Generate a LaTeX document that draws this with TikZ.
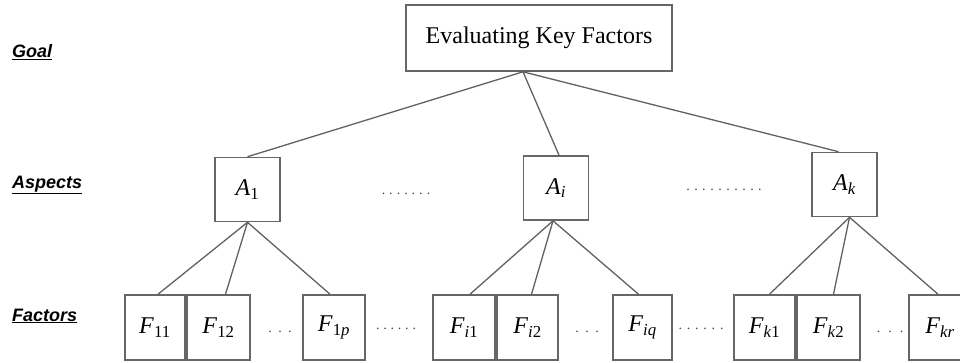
\documentclass[tikz,border=0pt]{standalone}
\usepackage{fontspec}
\setmainfont{Liberation Serif}
\newfontfamily\lblfont{Liberation Sans}
\newcommand\spdots[2]{\foreach \n in {1,...,#1}{.\kern#2}\kern-#2}
\begin{document}
\begin{tikzpicture}[x=1pt,y=-1pt,
  box/.style={draw=black!60, line width=1.6pt, rectangle, inner sep=0pt, text=black},
  fbox/.style={box, minimum height=65pt, font=\fontsize{24}{26}\selectfont},
  abox/.style={box, minimum width=65pt, minimum height=64pt, font=\fontsize{24}{26}\selectfont},
  link/.style={draw=black!62, line width=1.3pt},
  lvl/.style={anchor=west, inner sep=0pt, font=\lblfont\bfseries\itshape\fontsize{18}{20}\selectfont},
  gap/.style={inner sep=0pt, font=\fontsize{14}{16}\selectfont, text=black!75}]
\useasboundingbox (0,0) rectangle (960,362);
% level labels
\node[lvl] (lgoal) at (12,52) {\underline{Goal}};
\node[lvl] (lasp) at (12,185) {\underline{Aspects}};
\node[lvl] (lfac) at (12,316) {\underline{Factors}};
% goal
\node[box, minimum width=266pt, minimum height=66pt, font=\fontsize{24}{26}\selectfont] (goal) at (539,38) {Evaluating Key Factors};
% aspects
\node[abox] (a1) at (247.5,189.5) {\textit{A}\textsubscript{1}};
\node[abox] (ai) at (556,188) {\textit{A}\textsubscript{\textit{i}}};
\node[abox] (ak) at (844.5,184.5) {\textit{A}\textsubscript{\textit{k}}};
\node[gap] (d1) at (406,194) {\spdots{7}{4pt}};
\node[gap] (d2) at (724,190) {\spdots{10}{4.5pt}};
% factors
\node[fbox, minimum width=60pt] (f11) at (155,327.5) {\textit{F}\textsubscript{11}};
\node[fbox, minimum width=63pt] (f12) at (218.5,327.5) {\textit{F}\textsubscript{12}};
\node[fbox, minimum width=62pt] (f1p) at (334,327.5) {\textit{F}\textsubscript{1\textit{p}}};
\node[fbox, minimum width=62pt] (fi1) at (464,327.5) {\textit{F}\textsubscript{\textit{i}1}};
\node[fbox, minimum width=61pt] (fi2) at (527.5,327.5) {\textit{F}\textsubscript{\textit{i}2}};
\node[fbox, minimum width=59pt] (fiq) at (642.5,327.5) {\textit{F}\textsubscript{\textit{iq}}};
\node[fbox, minimum width=61pt] (fk1) at (764.5,327.5) {\textit{F}\textsubscript{\textit{k}1}};
\node[fbox, minimum width=63pt] (fk2) at (828.5,327.5) {\textit{F}\textsubscript{\textit{k}2}};
\node[fbox, minimum width=62pt] (fkr) at (940,327.5) {\textit{F}\textsubscript{\textit{kr}}};
\node[gap] (e1) at (280,332) {\spdots{3}{6.5pt}};
\node[gap] (e2) at (396,329) {\spdots{6}{3.8pt}};
\node[gap] (e3) at (587,332) {\spdots{3}{6.5pt}};
\node[gap] (e4) at (701,329) {\spdots{6}{4.8pt}};
\node[gap] (e5) at (890,332) {\spdots{3}{8pt}};
% connectors
\coordinate (g) at ([xshift=-16pt]goal.south);
\draw[link] (g) -- (a1.north);
\draw[link] (g) -- ([xshift=3pt]ai.north);
\draw[link] (g) -- ([xshift=-6pt]ak.north);
\draw[link] (a1.south) -- ([xshift=3pt]f11.north);
\draw[link] (a1.south) -- ([xshift=7pt]f12.north);
\draw[link] (a1.south) -- ([xshift=-4pt]f1p.north);
\draw[link] ([xshift=-3pt]ai.south) -- ([xshift=6pt]fi1.north);
\draw[link] ([xshift=-3pt]ai.south) -- ([xshift=4pt]fi2.north);
\draw[link] ([xshift=-3pt]ai.south) -- ([xshift=-4pt]fiq.north);
\draw[link] ([xshift=5pt]ak.south) -- ([xshift=5pt]fk1.north);
\draw[link] ([xshift=5pt]ak.south) -- ([xshift=5pt]fk2.north);
\draw[link] ([xshift=5pt]ak.south) -- ([xshift=-2pt]fkr.north);
\end{tikzpicture}
\end{document}
